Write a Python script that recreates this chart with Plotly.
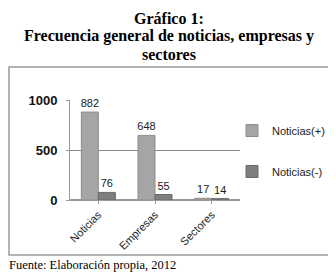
import plotly.graph_objects as go

categories = ["Noticias", "Empresas", "Sectores"]
pos_values = [882, 648, 17]
neg_values = [76, 55, 14]
series_names = ["Noticias(+)", "Noticias(-)"]
y_ticks = [0, 500, 1000]

# the page body has an 8px margin; work in reference pixels and shift
OFF = 8
W, H = 336 - OFF, 274 - OFF
# plot area in reference pixels: x 70..240, y 100..200
L, R, T, B = 70 - OFF, 240 - OFF, 100 - OFF, 200 - OFF

def px(x):
    return (x - OFF - L) / (R - L)

def py(y):
    return (B - (y - OFF)) / (B - T)

sans = "Liberation Sans"
serif = "Liberation Serif"

fig = go.Figure()
fig.add_trace(go.Bar(
    x=categories, y=pos_values, name=series_names[0],
    marker=dict(color="#a5a5a5", line=dict(color="#8c8c8c", width=1)),
    text=[str(v) for v in pos_values], textposition="outside",
    textfont=dict(family=sans, size=11, color="#222"),
    constraintext="none", cliponaxis=False, legendgroup="a",
))
fig.add_trace(go.Bar(
    x=categories, y=neg_values, name=series_names[1],
    marker=dict(color="#7f7f7f", line=dict(color="#6a6a6a", width=1)),
    text=[str(v) for v in neg_values], textposition="outside",
    textfont=dict(family=sans, size=11, color="#222"),
    constraintext="none", cliponaxis=False, legendgroup="b",
))

title_lines = ["<b>Gráfico 1:</b>",
               "<b>Frecuencia general de noticias, empresas y</b>",
               "<b>sectores</b>"]
title_y = [18, 36, 54]

annotations = [
    dict(text=t, xref="paper", yref="paper", x=px(169), y=py(yy),
         showarrow=False, xanchor="center", yanchor="middle",
         font=dict(family=serif, size=16, color="#000"))
    for t, yy in zip(title_lines, title_y)
]
annotations.append(
    dict(text="Fuente: Elaboración propia, 2012", xref="paper", yref="paper",
         x=px(7), y=py(265), showarrow=False, xanchor="left", yanchor="middle",
         font=dict(family=serif, size=12.5, color="#000")))

fig.update_layout(
    width=W, height=H,
    margin=dict(l=L, r=W - R, t=T, b=H - B, autoexpand=False),
    paper_bgcolor="white", plot_bgcolor="white",
    barmode="group", bargap=0.4, bargroupgap=0.0,
    showlegend=True,
    legend=dict(x=px(232), y=py(116), xanchor="left", yanchor="top",
                traceorder="grouped", tracegroupgap=22,
                bgcolor="rgba(0,0,0,0)",
                font=dict(family=sans, size=11, color="#222"),
                itemwidth=30),
    xaxis=dict(tickangle=-45, tickfont=dict(family=sans, size=11, color="#222"),
               showline=True, linecolor="#999", ticks="outside", ticklen=3,
               tickcolor="#999"),
    yaxis=dict(range=[0, 1003], tickvals=y_ticks,
               tickfont=dict(family=sans, size=13, color="#111", weight="bold"),
               ticklabelstandoff=6,
               showgrid=True, gridcolor="#8a8a8a", gridwidth=1,
               showline=True, linecolor="#999", zeroline=True, zerolinecolor="#999",
               ticks="outside", ticklen=3, tickcolor="#999"),
    shapes=[dict(type="rect", xref="paper", yref="paper",
                 x0=px(9), x1=px(332), y0=py(255), y1=py(67),
                 line=dict(color="#9a9a9a", width=1.5), layer="below")],
    annotations=annotations,
)

fig.write_html("out.html")
